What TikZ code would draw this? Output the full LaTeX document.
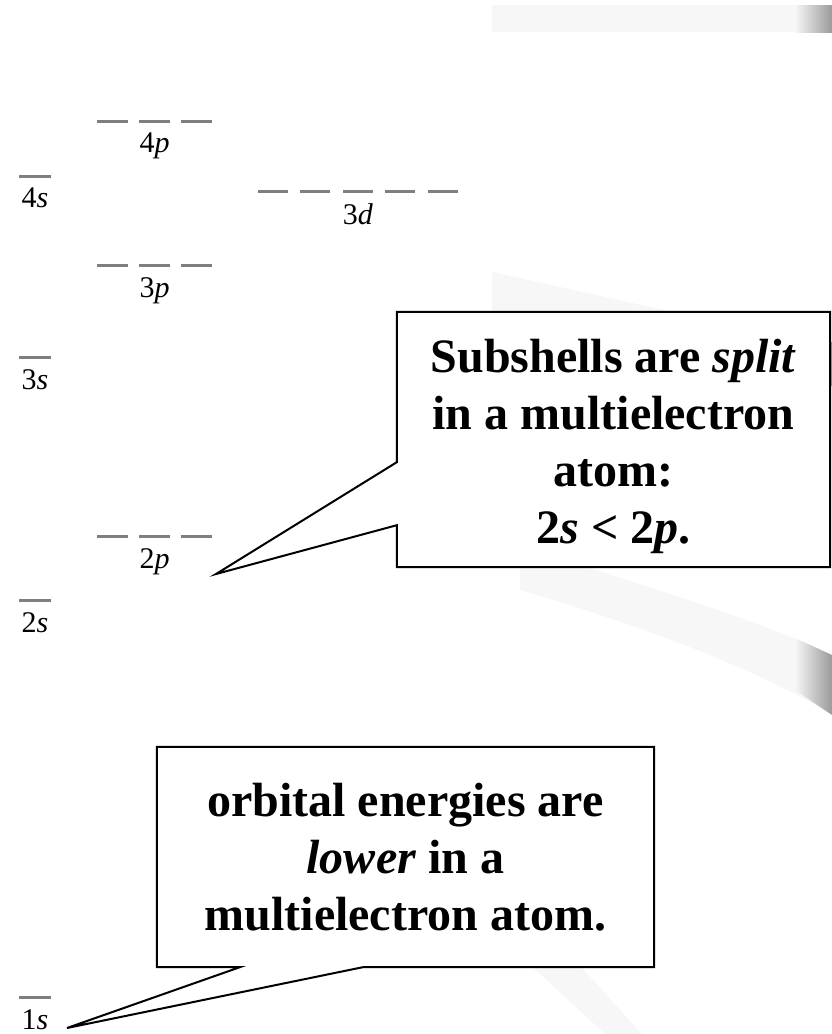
\documentclass[tikz,border=0pt]{standalone}
\usepackage{fontspec}
\setmainfont{Liberation Serif}
\usetikzlibrary{positioning}
\definecolor{levelgray}{HTML}{7F7F7F}
\definecolor{bandgray}{HTML}{F7F7F7}
\definecolor{banddark}{HTML}{9A9A9A}

\begin{document}
\begin{tikzpicture}[
    x=1pt, y=-1pt,
    level/.style={draw=levelgray, line width=3pt},
    lbl/.style={inner sep=0pt, font=\fontsize{30}{32}\selectfont},
    callout/.style={fill=white, inner sep=0pt, align=center, font=\fontsize{48}{57}\selectfont\bfseries},
    outline/.style={draw=black, line width=2pt, line join=miter}
  ]
  \path[use as bounding box] (0,0) rectangle (832,1034);

  % Background bands
  \fill[bandgray] (492,5) rectangle (795,32);
  \shade[left color=bandgray, right color=banddark] (795,5) rectangle (832,32);
  \fill[bandgray] (492,272) -- (832,347) -- (832,390) -- (492,330) -- cycle;
  \shade[left color=bandgray, right color=banddark] (815,342) rectangle (832,385);
  \fill[bandgray] (520,545) .. controls (640,585) and (760,620) .. (832,655)
    -- (832,715) .. controls (760,670) and (640,625) .. (520,590) -- cycle;
  \shade[left color=bandgray, right color=banddark] (795,638) -- (832,655) -- (832,715) -- (795,690) -- cycle;
  \fill[bandgray] (525,960) -- (575,960) -- (642,1034) -- (605,1034) -- cycle;

  % Levels
  \foreach \n/\y in {4/176, 3/357, 2/600, 1/997} {
    \draw[level] (19,\y) -- ++(32,0);
    \coordinate (s\n) at (35,\y);
    \node[lbl, below=12pt of s\n] (ts\n) {\n\textit{s}};
  }
  \foreach \n/\y in {4/121, 3/265, 2/536} {
    \foreach \x in {97,139,181} \draw[level] (\x,\y) -- ++(31,0);
    \coordinate (p\n) at (154.5,\y);
    \node[lbl, below=12pt of p\n] (tp\n) {\n\textit{p}};
  }
  \foreach \x in {258,300,343,385,428} \draw[level] (\x,191) -- ++(30,0);
  \coordinate (d3) at (358,191);
  \node[lbl, below=12pt of d3] (td3) {3\textit{d}};

  % Callouts
  \node[callout, minimum width=433pt, minimum height=255pt] (split) at (613.5,439.5)
    {\rule{0pt}{48pt}Subshells are \textit{split}\\in a multielectron\\atom:\\2\textit{s} < 2\textit{p}.};
  \coordinate (tipsplit) at (216,574);
  \draw[outline] (split.north west) -- (split.north east) -- (split.south east)
    -- (split.south west) -- ([yshift=42pt]split.south west) -- (tipsplit)
    -- ([yshift=105pt]split.south west) -- cycle;

  \node[callout, minimum width=497pt, minimum height=220pt] (lower) at (405.5,857)
    {orbital energies are\\\textit{lower} in a\\multielectron atom.};
  \coordinate (tiplower) at (67,1028);
  \draw[outline] (lower.south west) -- (lower.north west) -- (lower.north east)
    -- (lower.south east) -- ([xshift=206pt]lower.south west) -- (tiplower)
    -- ([xshift=83pt]lower.south west) -- cycle;

\end{tikzpicture}
\end{document}
